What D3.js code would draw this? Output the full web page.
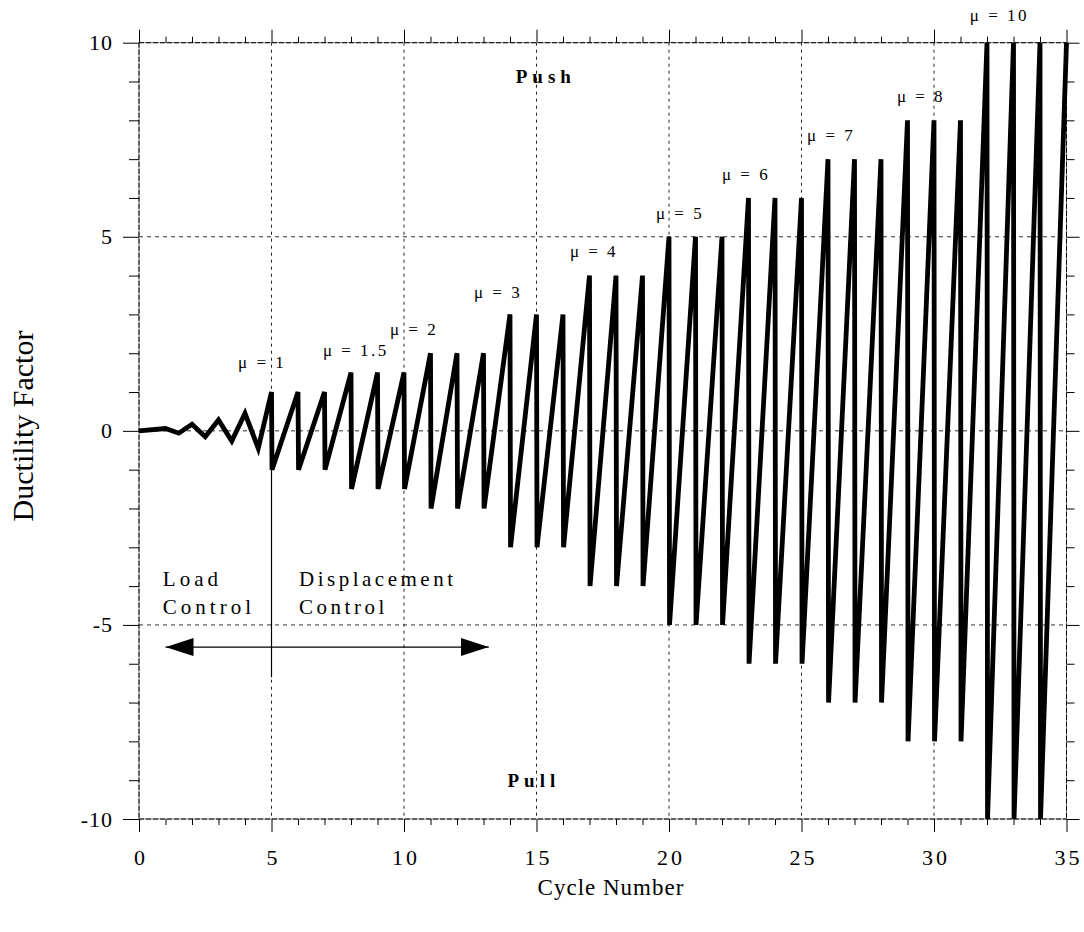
<!DOCTYPE html>
<html>
<head>
<meta charset="utf-8">
<script src="https://cdn.jsdelivr.net/npm/d3@7"></script>
<style>
  body { margin: 0; background: #fff; }
  svg { display: block; }
  text { font-family: "Liberation Serif", "Times New Roman", "DejaVu Serif", serif; fill: #000; }
</style>
</head>
<body>
<svg width="1084" height="932"></svg>
<script>
// load control part (small cycles before yield)
var loadCycle = [0, 1, 1.5, 2, 2.5, 3, 3.5, 4, 4.5];
var loadValue = [0, 0.06, -0.06, 0.17, -0.15, 0.28, -0.26, 0.45, -0.45];

// displacement control: peak at each cycle, then drop to -mu
var dispCycle = [5, 6, 7, 8, 9, 10, 11, 12, 13, 14, 15, 16, 17, 18, 19, 20, 21, 22,
                 23, 24, 25, 26, 27, 28, 29, 30, 31, 32, 33, 34, 35];
var dispMu = [1, 1, 1, 1.5, 1.5, 1.5, 2, 2, 2, 3, 3, 3, 4, 4, 4, 5, 5, 5,
              6, 6, 6, 7, 7, 7, 8, 8, 8, 10, 10, 10, 10];

// mu labels: text, cycle where text starts, value at baseline
var muText = ["\u03bc = 1", "\u03bc = 1.5", "\u03bc = 2", "\u03bc = 3", "\u03bc = 4",
              "\u03bc = 5", "\u03bc = 6", "\u03bc = 7", "\u03bc = 8", "\u03bc = 10"];
var muCycle = [3.74, 6.94, 9.47, 12.64, 16.26, 19.51, 22.0, 25.21, 28.6, 31.35];
var muValue = [1.63, 1.94, 2.48, 3.43, 4.47, 5.45, 6.46, 7.47, 8.47, 10.57];

var xTicks = [0, 5, 10, 15, 20, 25, 30, 35];
var yTicks = [-10, -5, 0, 5, 10];
var xGrid = [5, 10, 15, 20, 25, 30];
var yGrid = [-5, 0, 5];

var svg = d3.select("svg");

var x = d3.scaleLinear().domain([0, 35]).range([139, 1066.5]);
var y = d3.scaleLinear().domain([-10, 10]).range([819, 42.7]);

var x0 = x(0), x1 = x(35), y0 = y(-10), y1 = y(10);
var minorX = d3.range(0, 36, 1).filter(function (d) { return d % 5 != 0; });
var minorY = d3.range(-10, 11, 1).filter(function (d) { return d % 5 != 0; });

// grid
var grid = svg.append("g");
grid.selectAll(".gx").data(xGrid).enter().append("line")
    .attr("x1", function (d) { return x(d); }).attr("x2", function (d) { return x(d); })
    .attr("y1", y1).attr("y2", y0)
    .attr("stroke", "#222").attr("stroke-width", 1).attr("stroke-dasharray", "3,4");
grid.selectAll(".gy").data(yGrid).enter().append("line")
    .attr("x1", x0).attr("x2", x1)
    .attr("y1", function (d) { return y(d); }).attr("y2", function (d) { return y(d); })
    .attr("stroke", "#333").attr("stroke-width", 1).attr("stroke-dasharray", "4,4");

// frame
var frame = [[x0, y1, x1, y1], [x0, y0, x1, y0], [x0, y1, x0, y0], [x1, y1, x1, y0]];
svg.append("g").selectAll("line").data(frame).enter().append("line")
    .attr("x1", function (d) { return d[0]; }).attr("y1", function (d) { return d[1]; })
    .attr("x2", function (d) { return d[2]; }).attr("y2", function (d) { return d[3]; })
    .attr("stroke", "#888").attr("stroke-width", 1);
svg.append("g").selectAll("line").data(frame).enter().append("line")
    .attr("x1", function (d) { return d[0]; }).attr("y1", function (d) { return d[1]; })
    .attr("x2", function (d) { return d[2]; }).attr("y2", function (d) { return d[3]; })
    .attr("stroke", "#000").attr("stroke-width", 1).attr("stroke-dasharray", "5,2");

// axes: major ticks + labels, minor ticks
function styleAxis(g) {
    g.attr("font-family", null).attr("font-size", null);
    g.select(".domain").remove();
    g.selectAll("line").attr("stroke", "#000").attr("stroke-width", 1);
}

svg.append("g").attr("transform", "translate(0," + y0 + ")")
    .call(d3.axisBottom(x).tickValues(xTicks).tickSize(13).tickPadding(17))
    .call(styleAxis)
    .selectAll("text").style("font-size", "22px").style("letter-spacing", "3px").attr("dx", "1.5");
svg.append("g").attr("transform", "translate(0," + y0 + ")")
    .call(d3.axisBottom(x).tickValues(minorX).tickSize(6).tickFormat(""))
    .call(styleAxis);
svg.append("g").attr("transform", "translate(0," + y1 + ")")
    .call(d3.axisTop(x).tickValues(xTicks).tickSize(13).tickFormat(""))
    .call(styleAxis);
svg.append("g").attr("transform", "translate(0," + y1 + ")")
    .call(d3.axisTop(x).tickValues(minorX).tickSize(6).tickFormat(""))
    .call(styleAxis);

svg.append("g").attr("transform", "translate(" + x0 + ",0)")
    .call(d3.axisLeft(y).tickValues(yTicks).tickSize(16).tickPadding(10))
    .call(styleAxis)
    .selectAll("text").style("font-size", "22px").style("letter-spacing", "1px")
    .text(function (d) { return d < 0 ? "-" + Math.abs(d) : d; });
svg.append("g").attr("transform", "translate(" + x0 + ",0)")
    .call(d3.axisLeft(y).tickValues(minorY).tickSize(10).tickFormat(""))
    .call(styleAxis);
svg.append("g").attr("transform", "translate(" + x1 + ",0)")
    .call(d3.axisRight(y).tickValues(yTicks).tickSize(13).tickFormat(""))
    .call(styleAxis);
svg.append("g").attr("transform", "translate(" + x1 + ",0)")
    .call(d3.axisRight(y).tickValues(minorY).tickSize(8).tickFormat(""))
    .call(styleAxis);

// loading history
var pts = loadCycle.map(function (c, i) { return [c, loadValue[i]]; });
dispCycle.forEach(function (c, i) {
    pts.push([c, dispMu[i]]);
    if (i < dispCycle.length - 1) pts.push([c + 0.02, -dispMu[i]]);
});

var line = d3.line()
    .x(function (d) { return x(d[0]); })
    .y(function (d) { return y(d[1]); });

svg.append("path").datum(pts)
    .attr("d", line)
    .attr("fill", "none")
    .attr("stroke", "#000")
    .attr("stroke-width", 4.8)
    .attr("stroke-linejoin", "miter");

// divider between load and displacement control
svg.append("line")
    .attr("x1", x(5)).attr("x2", x(5))
    .attr("y1", y(-1)).attr("y2", y(-6.35))
    .attr("stroke", "#000").attr("stroke-width", 1.2);

// double arrow
var defs = svg.append("defs");
defs.append("marker").attr("id", "ah")
    .attr("viewBox", "0 0 28 18").attr("refX", 28).attr("refY", 9)
    .attr("markerWidth", 28).attr("markerHeight", 18)
    .attr("markerUnits", "userSpaceOnUse").attr("orient", "auto-start-reverse")
    .append("path").attr("d", "M0,0L28,9L0,18Z").attr("fill", "#000");

svg.append("line")
    .attr("x1", x(1)).attr("x2", x(13.2))
    .attr("y1", y(-5.57)).attr("y2", y(-5.57))
    .attr("stroke", "#000").attr("stroke-width", 1.3)
    .attr("marker-start", "url(#ah)").attr("marker-end", "url(#ah)");

// annotations
function note(t, cx, cy, size, spacing, weight, anchor) {
    svg.append("text")
        .attr("x", x(cx)).attr("y", y(cy))
        .attr("text-anchor", anchor || "start")
        .style("font-size", size + "px")
        .style("letter-spacing", spacing + "px")
        .style("font-weight", weight || "normal")
        .text(t);
}

note("Load", 0.9, -4.0, 21, 4);
note("Control", 0.9, -4.72, 21, 4);
note("Displacement", 6.04, -4.0, 21, 3.5);
note("Control", 6.04, -4.72, 21, 3.5);
note("Push", 15.35, 8.97, 19, 5, "bold", "middle");
note("Pull", 14.9, -9.18, 19, 5, "bold", "middle");

svg.append("g").selectAll("text").data(muText).enter().append("text")
    .attr("x", function (d, i) { return x(muCycle[i]); })
    .attr("y", function (d, i) { return y(muValue[i]); })
    .style("font-size", "17px").style("letter-spacing", "2.5px")
    .text(function (d) { return d; });

// axis titles
svg.append("text")
    .attr("x", 611).attr("y", 895)
    .attr("text-anchor", "middle")
    .style("font-size", "23px").style("letter-spacing", "1px")
    .text("Cycle Number");

svg.append("text")
    .attr("transform", "translate(33,426) rotate(-90)")
    .attr("text-anchor", "middle")
    .style("font-size", "30px")
    .text("Ductility Factor");
</script>
</body>
</html>
